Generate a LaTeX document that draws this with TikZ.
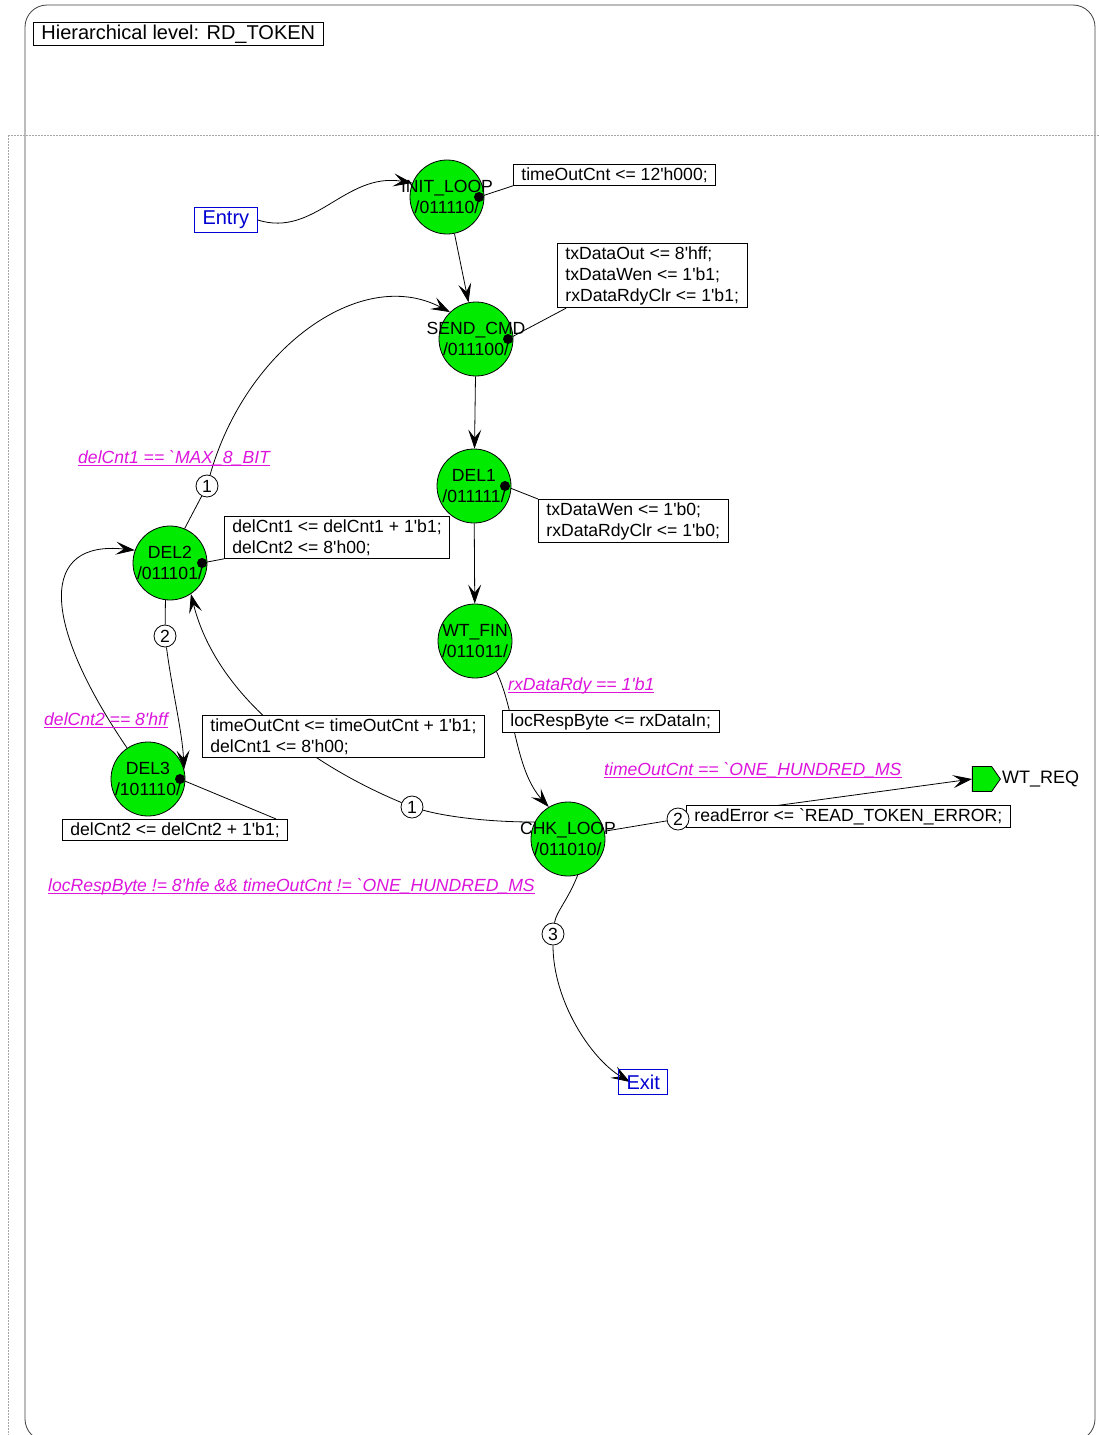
\documentclass[tikz,border=0pt]{standalone}
\usepackage{fontspec}
\newfontfamily\fsmfont{Liberation Sans}
\usetikzlibrary{arrows.meta}
\usetikzlibrary{shapes.symbols}
\usetikzlibrary{backgrounds}
\definecolor{stategreen}{RGB}{0,235,0}
\definecolor{condpink}{RGB}{220,20,220}
\definecolor{portblue}{RGB}{0,0,210}
\newsavebox{\condbox}
\newcommand{\ulcond}[1]{\sbox\condbox{#1}\rlap{\rule[-2.5pt]{\wd\condbox}{0.9pt}}\usebox\condbox}
\newcommand{\fsmtext}{\fsmfont\fontsize{17.6}{21}\selectfont}
\newcommand{\stname}[2]{\makebox[0pt]{#1}\\\makebox[0pt]{#2}}

\begin{document}
\begin{tikzpicture}[x=1pt, y=-1pt, font=\fsmtext,
    state/.style={circle, draw, line width=0.8pt, fill=stategreen, minimum size=74pt, inner sep=0pt, align=center},
    actdot/.style={circle, fill=black, minimum size=10pt, inner sep=0pt},
    action/.style={draw, line width=0.8pt, fill=white, anchor=north west, align=left, inner xsep=8pt, inner ysep=3pt},
    cond/.style={text=condpink, anchor=base west, inner sep=0pt, font=\fsmtext\itshape},
    prio/.style={circle, draw, line width=0.8pt, fill=white, minimum size=22pt, inner sep=0pt},
    port/.style={draw=portblue, text=portblue, line width=1pt, anchor=north west, minimum height=25pt,
      font=\fsmfont\fontsize{20}{22}\selectfont, inner xsep=8pt, inner ysep=2pt},
    outport/.style={signal, signal to=east, signal pointer angle=110, draw, line width=0.8pt,
      fill=stategreen, minimum width=28pt, minimum height=25pt, inner sep=0pt},
    trans/.style={-{Stealth[length=19pt, width=13pt, inset=8pt]}, line width=0.8pt},
    link/.style={line width=0.8pt}]
  \useasboundingbox (0,0) rectangle (1099,1435);

  \node[draw, line width=0.8pt, anchor=north west, inner xsep=8pt, inner ysep=2.5pt,
    font=\fsmfont\fontsize{20}{22}\selectfont] (level) at (33,22) {Hierarchical level: RD\_TOKEN};

  % states
  \node[state] (initloop) at (447,197) {\stname{INIT\_LOOP}{/011110/}};
  \node[state] (sendcmd) at (476,339) {\stname{SEND\_CMD}{/011100/}};
  \node[state] (del1) at (474,486) {\stname{DEL1}{/011111/}};
  \node[state] (wtfin) at (475,641) {\stname{WT\_FIN}{/011011/}};
  \node[state] (del2) at (170,563) {\stname{DEL2}{/011101/}};
  \node[state] (del3) at (148,779) {\stname{DEL3}{/101110/}};
  \node[state] (chkloop) at (568,839) {\stname{CHK\_LOOP}{/011010/}};

  \node[actdot] (initdot) at (479,197) {};
  \node[actdot] (senddot) at (508,339) {};
  \node[actdot] (del1dot) at (505,486) {};
  \node[actdot] (del2dot) at (202,563) {};
  \node[actdot] (del3dot) at (180,779) {};

  % actions
  \node[action] (initact) at (513,164) {timeOutCnt <= 12'h000;};
  \node[action] (sendact) at (557,243) {txDataOut <= 8'hff;\\txDataWen <= 1'b1;\\rxDataRdyClr <= 1'b1;};
  \node[action] (del1act) at (538,499) {txDataWen <= 1'b0;\\rxDataRdyClr <= 1'b0;};
  \node[action] (del2act) at (224,516) {delCnt1 <= delCnt1 + 1'b1;\\delCnt2 <= 8'h00;};
  \node[action] (del3act) at (62,819) {delCnt2 <= delCnt2 + 1'b1;};
  \node[action] (retryact) at (202,715) {timeOutCnt <= timeOutCnt + 1'b1;\\delCnt1 <= 8'h00;};
  \node[action] (rxact) at (502,710) {locRespByte <= rxDataIn;};
  \node[action] (erract) at (686,805) {readError <= `READ\_TOKEN\_ERROR;};

  \node[prio] (p1del2) at (207,486) {1};
  \node[prio] (p2del2) at (165,636) {2};
  \node[prio] (p1chk) at (412,807) {1};
  \node[prio] (p2chk) at (678,819) {2};
  \node[prio] (p3chk) at (553,934) {3};

  % conditions
  \node[cond] (cmax) at (78,463) {\ulcond{delCnt1 == `MAX\_8\_BIT}};
  \node[cond] (cdel2) at (44,725) {\ulcond{delCnt2 == 8'hff}};
  \node[cond] (crx) at (508,690) {\ulcond{rxDataRdy == 1'b1}};
  \node[cond] (ctime) at (604,775) {\ulcond{timeOutCnt == `ONE\_HUNDRED\_MS}};
  \node[cond] (cloop) at (48,891) {\ulcond{locRespByte != 8'hfe \&\& timeOutCnt != `ONE\_HUNDRED\_MS}};

  \node[port] (entry) at (194,207) {Entry};
  \node[port] (exit) at (618,1069) {Exit};
  \node[outport] (wtreq) at (982,779) {};
  \node[anchor=west, inner sep=0pt, font=\fsmfont\fontsize{18}{20}\selectfont] (wtreqlabel) at (1002,779) {WT\_REQ};

  \begin{scope}[on background layer]
    \draw[rounded corners=22pt, draw=black!75, line width=0.8pt] (25,5) rectangle (1095,1441);
    \draw[gray!70, dash pattern=on 1.5pt off 1.5pt] (8,135) -- (1099,135);
    \draw[gray!70, dash pattern=on 1.5pt off 1.5pt] (8,135) -- (8,1435);

    \draw[trans] (entry.east) .. controls (315,238) and (345,172) .. (initloop.158);
    \draw[trans] (initloop) -- (sendcmd);
    \draw[trans] (sendcmd) -- (del1);
    \draw[trans] (del1) -- (wtfin);
    \draw[trans] (wtfin.-55) .. controls (515,710) and (515,770) .. (chkloop.121);

    \draw[link] (chkloop.153) .. controls (480,822) and (440,815) .. (p1chk);
    \draw[trans] (p1chk) .. controls (300,760) and (215,690) .. (del2.-56);
    \draw[link] (chkloop.12) -- (p2chk);
    \draw[trans] (p2chk) -- (wtreq.west);
    \draw[link] (chkloop.-75) .. controls (568,900) and (556,912) .. (p3chk);
    \draw[trans] (p3chk) .. controls (553,1000) and (590,1058) .. ([xshift=12pt]exit.west);

    \draw[link] (del2.67) -- (p1del2);
    \draw[trans] (p1del2) .. controls (245,350) and (360,265) .. (sendcmd.134);
    \draw[link] (del2.-97) -- (p2del2);
    \draw[trans] (p2del2) .. controls (172,690) and (182,730) .. (del3.15);
    \draw[trans] (del3.124) .. controls (40,620) and (40,540) .. (del2.160);

    \draw[link] (initdot) -- (initact.south west);
    \draw[link] (senddot) -- ([xshift=9pt]sendact.south west);
    \draw[link] (del1dot) -- (del1act.north west);
    \draw[link] (del2dot) -- (del2act.south west);
    \draw[link] (del3dot) -- ([xshift=-12pt]del3act.north east);
  \end{scope}
\end{tikzpicture}
\end{document}
